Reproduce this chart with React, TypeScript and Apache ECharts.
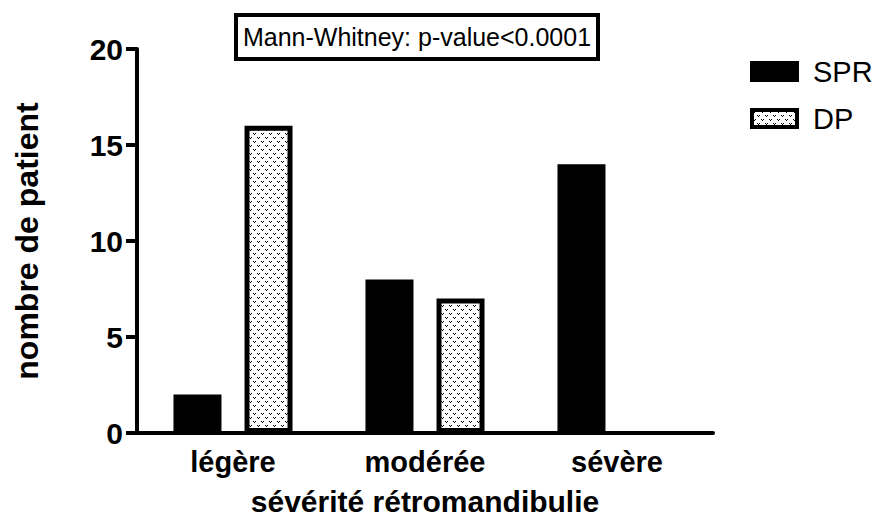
import React, { useEffect, useRef } from "react";
import * as echarts from "echarts";

const categories = ["légère", "modérée", "sévère"];
const sprValues = [2, 8, 14];
const dpValues = [16, 7, 0];
const seriesNames = ["SPR", "DP"];
const yTicks = { min: 0, max: 20, interval: 5 };
const titleText = "Mann-Whitney: p-value<0.0001";
const xName = "sévérité rétromandibulie";
const yName = "nombre de patient";

const FONT = "'Liberation Sans', Arial, Helvetica, sans-serif";

function makePattern(): string {
  const c = document.createElement("canvas");
  c.width = 8;
  c.height = 8;
  const ctx = c.getContext("2d")!;
  ctx.fillStyle = "#fff";
  ctx.fillRect(0, 0, 8, 8);
  ctx.fillStyle = "#000";
  const v = (x: number, y: number) => {
    ctx.fillRect(x, y, 1, 1);
    ctx.fillRect(x + 2, y, 1, 1);
    ctx.fillRect(x + 1, y + 1, 1, 1);
  };
  v(1, 1);
  v(5, 5);
  return c.toDataURL();
}

// zero-height bars get no outline so nothing is drawn for them
const withZeroHidden = (vals: number[]) =>
  vals.map((v) => (v === 0 ? { value: v, itemStyle: { borderWidth: 0 } } : v));

export default function App() {
  const ref = useRef<HTMLDivElement>(null);
  useEffect(() => {
    if (!ref.current) return;
    const chart = echarts.init(ref.current, null, { renderer: "svg" });
    const pattern = {
      image: makePattern(),
      repeat: "repeat",
      imageWidth: 8,
      imageHeight: 8,
    };
    const boldLabel = {
      fontFamily: FONT,
      fontWeight: "bold" as const,
      fontSize: 29,
      color: "#000",
    };
    chart.setOption({
      animation: false,
      backgroundColor: "#fff",
      grid: {
        left: 137,
        right: 169,
        top: 49,
        bottom: 86,
        containLabel: false,
        outerBoundsMode: "none",
      },
      legend: {
        orient: "vertical",
        left: 750,
        top: 57,
        padding: 0,
        itemWidth: 45,
        itemHeight: 17,
        itemGap: 18,
        icon: "rect",
        itemStyle: { borderColor: "#000", borderWidth: 4 },
        textStyle: {
          fontFamily: FONT,
          fontSize: 29,
          color: "#000",
          padding: [0, 0, 0, 11],
        },
        data: seriesNames,
      },
      xAxis: {
        type: "category",
        data: categories,
        boundaryGap: true,
        name: xName,
        nameLocation: "middle",
        nameGap: 53,
        nameTextStyle: { ...boldLabel, fontSize: 30 },
        axisLine: { lineStyle: { color: "#000", width: 4 } },
        axisTick: {
          alignWithLabel: true,
          length: 11,
          lineStyle: { color: "#000", width: 4 },
        },
        axisLabel: { ...boldLabel, margin: 14 },
        splitLine: { show: false },
      },
      yAxis: {
        type: "value",
        min: yTicks.min,
        max: yTicks.max,
        interval: yTicks.interval,
        name: yName,
        nameLocation: "middle",
        nameRotate: 90,
        nameGap: 94,
        nameTextStyle: { ...boldLabel, fontSize: 32 },
        axisLine: { show: true, lineStyle: { color: "#000", width: 4 } },
        axisTick: {
          show: true,
          length: 11,
          lineStyle: { color: "#000", width: 4 },
        },
        axisLabel: { ...boldLabel, fontSize: 30, margin: 14 },
        splitLine: { show: false },
      },
      series: [
        {
          name: seriesNames[0],
          type: "bar",
          data: withZeroHidden(sprValues),
          barWidth: 48,
          barGap: "48%",
          itemStyle: { color: "#000", borderColor: "#000", borderWidth: 5 },
        },
        {
          name: seriesNames[1],
          type: "bar",
          data: withZeroHidden(dpValues),
          barWidth: 48,
          barGap: "48%",
          itemStyle: { color: pattern, borderColor: "#000", borderWidth: 5 },
        },
      ],
      graphic: [
        {
          type: "group",
          left: 234,
          top: 13,
          children: [
            {
              type: "rect",
              shape: { x: 0, y: 0, width: 362, height: 44 },
              style: { fill: "#fff", stroke: "#000", lineWidth: 4 },
            },
            {
              type: "text",
              x: 181,
              y: 22,
              style: {
                text: titleText,
                fontFamily: FONT,
                fontSize: 25,
                fill: "#000",
                align: "center",
                verticalAlign: "middle",
              },
            },
          ],
        },
      ],
    });
    return () => chart.dispose();
  }, []);
  return (
    <div
      ref={ref}
      style={{ position: "fixed", left: 0, top: 0, width: 882, height: 519 }}
    />
  );
}
